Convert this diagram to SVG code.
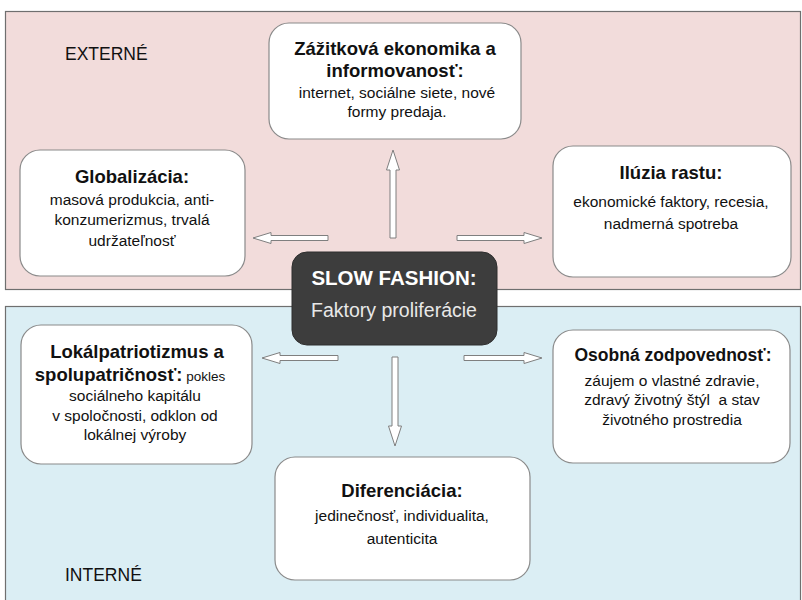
<svg xmlns="http://www.w3.org/2000/svg" width="802" height="600" viewBox="0 0 802 600">
<defs>
<style>
.panel{stroke:#6f6f6f;stroke-width:1.2}
.box{fill:#ffffff;stroke:#8a8a8a;stroke-width:1.2}
.arrow{fill:#ffffff;stroke:#7f7f7f;stroke-width:1}
text{font-family:"Liberation Sans",Arial,sans-serif;fill:#111111;text-anchor:middle}
.t{font-weight:bold;font-size:18.5px}
.b{font-size:15.5px}
.lab{font-size:17.5px;text-anchor:start}
.ct{font-weight:bold;font-size:20.5px;fill:#ffffff}
.cb{font-size:19.5px;fill:#e8e8e8}
</style>
</defs>
<rect class="panel" x="5.5" y="11.5" width="795" height="278" fill="#f2dcdb"/>
<rect class="panel" x="5.5" y="306.5" width="795" height="300" fill="#dbeef4"/>
<text class="lab" x="65" y="60">EXTERNÉ</text>
<text class="lab" x="65" y="581">INTERNÉ</text>
<g id="zazitkova">
<rect class="box" x="269" y="23" width="252" height="116" rx="20"/>
<text class="t" x="395" y="55">Zážitková ekonomika a</text>
<text class="t" x="395" y="77">informovanosť:</text>
<text class="b" x="397" y="98">internet, sociálne siete, nové</text>
<text class="b" x="397" y="117">formy predaja.</text>
</g>
<g id="globalizacia">
<rect class="box" x="20" y="150" width="225" height="126" rx="20"/>
<text class="t" x="132" y="183">Globalizácia:</text>
<text class="b" x="132" y="205">masová produkcia, anti-</text>
<text class="b" x="132" y="225">konzumerizmus, trvalá</text>
<text class="b" x="132" y="246">udržateľnosť</text>
</g>
<g id="iluzia">
<rect class="box" x="553" y="146" width="238" height="131" rx="20"/>
<text class="t" x="671" y="179">Ilúzia rastu:</text>
<text class="b" x="671" y="207">ekonomické faktory, recesia,</text>
<text class="b" x="671" y="229">nadmerná spotreba</text>
</g>
<g id="lokalpatriotizmus">
<rect class="box" x="21" y="325" width="231" height="139" rx="20"/>
<text class="t" x="137" y="358">Lokálpatriotizmus a</text>
<text class="t" x="130" y="381">spolupatričnosť:<tspan style="font-weight:normal;font-size:13.5px"> pokles</tspan></text>
<text class="b" x="135" y="401">sociálneho kapitálu</text>
<text class="b" x="135" y="421">v spoločnosti, odklon od</text>
<text class="b" x="135" y="440">lokálnej výroby</text>
</g>
<g id="osobna">
<rect class="box" x="553" y="330" width="237" height="133" rx="20"/>
<text class="t" x="673" y="361" style="font-size:17.5px">Osobná zodpovednosť:</text>
<text class="b" x="672" y="386">záujem o vlastné zdravie,</text>
<text class="b" x="672" y="405" xml:space="preserve">zdravý životný štýl  a stav</text>
<text class="b" x="672" y="425">životného prostredia</text>
</g>
<g id="diferenciacia">
<rect class="box" x="275" y="457" width="255" height="123" rx="20"/>
<text class="t" x="402" y="497">Diferenciácia:</text>
<text class="b" x="402" y="521">jedinečnosť, individualita,</text>
<text class="b" x="402" y="544">autenticita</text>
</g>
<g id="connectors">
<polygon class="arrow" points="390,238 396,238 396,170 399.5,170 393,150 386.5,170 390,170"/>
<polygon class="arrow" points="328,235.5 328,240.5 271,240.5 271,243.5 253,238 271,232.5 271,235.5"/>
<polygon class="arrow" points="457,235.5 524,235.5 524,232.5 542,238 524,243.5 524,240.5 457,240.5"/>
<polygon class="arrow" points="338,355.5 338,360.5 280,360.5 280,363.5 262,358 280,352.5 280,355.5"/>
<polygon class="arrow" points="464,355.5 524,355.5 524,352.5 542,358 524,363.5 524,360.5 464,360.5"/>
<polygon class="arrow" points="392,357 398,357 398,426 401.5,426 395,446 388.5,426 392,426"/>
</g>
<g id="slowfashion">
<rect x="292" y="252" width="205" height="93" rx="15" fill="#3d3d3d" stroke="#2e2e2e" stroke-width="1"/>
<text class="ct" x="394" y="285">SLOW FASHION:</text>
<text class="cb" x="394" y="317">Faktory proliferácie</text>
</g>
</svg>
